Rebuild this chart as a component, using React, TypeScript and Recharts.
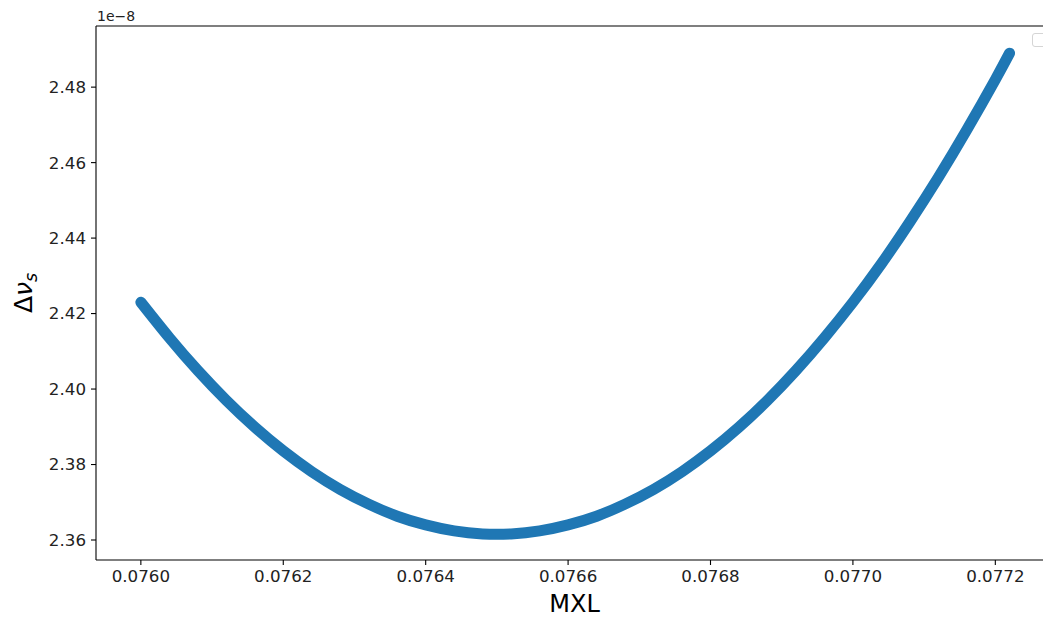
import React from "react";
import { LineChart, Line, XAxis, YAxis } from "recharts";

const mxlValues = [
  0.076, 0.07604, 0.07608, 0.07612, 0.07616, 0.0762, 0.07624, 0.07628, 0.07632,
  0.07636, 0.0764, 0.07644, 0.07648, 0.07652, 0.07656, 0.0766, 0.07664, 0.07668,
  0.07672, 0.07676, 0.0768, 0.07684, 0.07688, 0.07692, 0.07696, 0.077, 0.07704,
  0.07708, 0.07712, 0.07716, 0.0772, 0.07722,
];
// Δν_s in units of 1e-8
const deltaNuValues = [
  2.423, 2.4136, 2.4049, 2.397, 2.3899, 2.3836, 2.3781, 2.3734, 2.3695, 2.3663,
  2.364, 2.3624, 2.3616, 2.3616, 2.3624, 2.364, 2.3663, 2.3695, 2.3734, 2.3781,
  2.3836, 2.3899, 2.397, 2.4049, 2.4136, 2.423, 2.4332, 2.4443, 2.4561, 2.4687,
  2.482, 2.489,
];
const xTicks = [0.076, 0.0762, 0.0764, 0.0766, 0.0768, 0.077, 0.0772];
const yTicks = [2.36, 2.38, 2.4, 2.42, 2.44, 2.46, 2.48];

const data = mxlValues.map((x, i) => ({ x, y: deltaNuValues[i] }));

const FONT = "DejaVu Sans";
const tickStyle = { fill: "#222", fontSize: 16.7, fontFamily: FONT };
const X_DOMAIN: [number, number] = [0.075937, 0.077281];

export default function App() {
  return (
    <div
      style={{
        position: "absolute",
        left: 0,
        top: 0,
        width: 1043,
        height: 618,
        overflow: "hidden",
        background: "#fff",
      }}
    >
      <LineChart
        width={1060}
        height={618}
        data={data}
        margin={{ top: 25, right: 7, bottom: 0, left: 0 }}
      >
        <XAxis
          xAxisId="top"
          orientation="top"
          type="number"
          dataKey="x"
          domain={X_DOMAIN}
          allowDataOverflow
          height={1}
          tick={false}
          tickLine={false}
          axisLine={{ stroke: "#000", strokeWidth: 1.1 }}
        />
        <XAxis
          type="number"
          dataKey="x"
          domain={X_DOMAIN}
          allowDataOverflow
          ticks={xTicks}
          interval={0}
          tickFormatter={(v: number) => v.toFixed(4)}
          tick={tickStyle}
          tickSize={5}
          tickMargin={5}
          height={58}
          axisLine={{ stroke: "#000", strokeWidth: 1.1 }}
          tickLine={{ stroke: "#000", strokeWidth: 1.1 }}
          label={{
            content: () => (
              <text
                x={574.5}
                y={612}
                textAnchor="middle"
                fontFamily={FONT}
                fontSize={24}
                fill="#000"
              >
                MXL
              </text>
            ),
          }}
        />
        <YAxis
          type="number"
          dataKey="y"
          domain={[2.3547, 2.4962]}
          allowDataOverflow
          ticks={yTicks}
          interval={0}
          tickFormatter={(v: number) => v.toFixed(2)}
          tick={tickStyle}
          tickSize={5}
          tickMargin={5}
          width={96}
          axisLine={{ stroke: "#000", strokeWidth: 1.1 }}
          tickLine={{ stroke: "#000", strokeWidth: 1.1 }}
          label={{
            content: () => (
              <g>
                <text
                  x={97}
                  y={21}
                  fontFamily={FONT}
                  fontSize={14}
                  fill="#222"
                >
                  1e−8
                </text>
                <text
                  transform="rotate(-90)"
                  x={-293}
                  y={32}
                  textAnchor="middle"
                  fontFamily={FONT}
                  fontSize={25}
                  fill="#000"
                >
                  Δ<tspan fontStyle="italic">ν</tspan>
                  <tspan fontStyle="italic" fontSize={17.5} dy={5}>
                    s
                  </tspan>
                </text>
              </g>
            ),
          }}
        />
        <Line
          type="natural"
          dataKey="y"
          stroke="#1f77b4"
          strokeWidth={11}
          strokeLinecap="round"
          strokeLinejoin="round"
          dot={false}
          activeDot={false}
          isAnimationActive={false}
        />
      </LineChart>
      <div
        style={{
          position: "absolute",
          left: 1032,
          top: 33,
          width: 20,
          height: 12,
          border: "1px solid #d5d5d5",
          borderRadius: 3,
          background: "#fff",
        }}
      />
    </div>
  );
}
